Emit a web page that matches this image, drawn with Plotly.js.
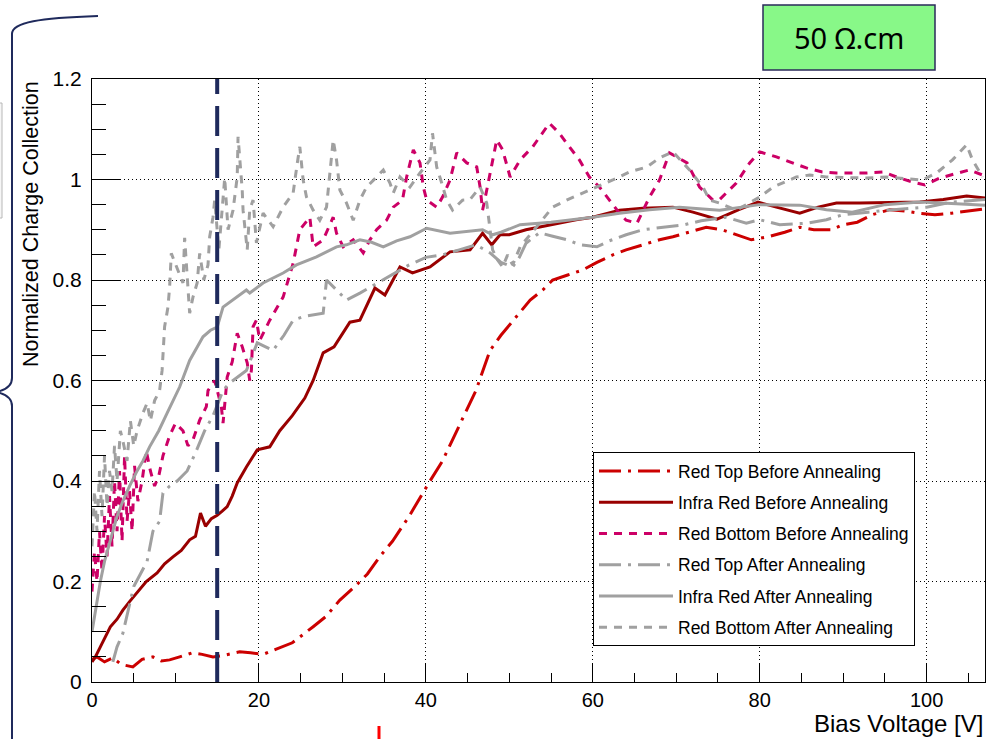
<!DOCTYPE html>
<html>
<head>
<meta charset="utf-8">
<script src="https://cdn.plot.ly/plotly-3.0.1.min.js"></script>
<style>html,body{margin:0;padding:0;background:#fff;}#chart{width:990px;height:739px;}</style>
</head>
<body>
<div id="chart"></div>
<script>
// ---- Data ----
const seriesNames = [
  "Red Top Before Annealing",
  "Infra Red Before Annealing",
  "Red Bottom Before Annealing",
  "Red Top After Annealing",
  "Infra Red After Annealing",
  "Red Bottom After Annealing"
];

const xRedTopBefore = [0,0.6,1.5,2.5,3.5,4.9,6,7.3,8.3,9.3,10.5,12,13.2,14.5,15.5,16.5,17.7,19,20.5,22,24,26.5,28,29.7,31.5,33,34.5,36,38,40.5,42,44,46,47.7,49,50.5,52.5,54,55.2,57,58.8,60.5,62.4,64,66,68,69.6,71.5,73.6,75.5,77.2,79,81,83,84.8,86.5,88.6,90,91.7,93.5,95.6,97.5,99,101,103,105,106.7];
const yRedTopBefore = [0.045,0.05,0.04,0.048,0.035,0.03,0.045,0.05,0.042,0.044,0.05,0.058,0.055,0.05,0.052,0.055,0.06,0.058,0.055,0.065,0.078,0.11,0.13,0.163,0.19,0.215,0.25,0.28,0.33,0.40,0.44,0.51,0.58,0.66,0.69,0.72,0.76,0.78,0.80,0.81,0.82,0.835,0.85,0.86,0.87,0.88,0.886,0.895,0.905,0.90,0.89,0.88,0.886,0.895,0.905,0.90,0.90,0.91,0.915,0.93,0.94,0.937,0.933,0.93,0.933,0.937,0.941];

const xInfraRedBefore = [0,0.4,1,1.6,2.2,3,3.7,4.5,5.7,6.5,7.8,8.7,9.7,10.7,11.7,12.4,13,13.6,14.3,15,15.6,16.2,16.8,17.4,18.5,19.8,21.3,22.5,24,25.5,26.5,27.7,29,30.9,32.1,33.9,35.1,36.9,38.4,40.5,42.9,45.3,46.8,47.9,48.9,50,52,55,58,60,63.2,66,69.6,72,74.9,77.5,79.8,82,84.8,87,89.2,92,95,99.2,102,104.8,107];
const yInfraRedBefore = [0.04,0.05,0.07,0.09,0.11,0.125,0.143,0.16,0.183,0.2,0.217,0.235,0.249,0.262,0.283,0.29,0.336,0.31,0.325,0.332,0.34,0.349,0.37,0.396,0.428,0.462,0.468,0.5,0.53,0.565,0.6,0.655,0.667,0.716,0.72,0.784,0.77,0.826,0.814,0.826,0.856,0.86,0.893,0.87,0.89,0.89,0.90,0.91,0.92,0.925,0.939,0.943,0.945,0.935,0.921,0.94,0.955,0.945,0.933,0.945,0.953,0.953,0.954,0.955,0.96,0.967,0.963];

const xRedBottomBefore = [0,0.3,0.6,0.9,1.2,1.5,1.8,2.1,2.4,2.7,3,3.3,3.6,3.9,4.2,4.5,4.8,5.1,5.5,6,6.5,7,7.5,8,8.5,9.3,10,10.9,11.5,12.1,12.9,13.7,13.9,14.7,15.5,15.7,16.2,16.8,17.4,18,18.6,18.9,19.1,19.3,19.7,20.1,21.3,22.9,24.1,24.6,24.9,26.1,26.5,27.7,28.9,29.3,30.1,31.3,32.5,33.3,34.1,35.3,36.1,37.2,37.7,38.5,39.3,39.7,40.1,41.3,42,42.9,43.7,44.9,46.1,46.5,46.8,47.3,47.7,48.5,49.2,50.1,51.3,52.8,54.8,56,57.2,58.4,59.6,60.8,62,63.2,64,65.3,66.8,68,69.2,71.3,72.8,74.4,75.2,77.2,78.8,80,82,84,85.6,87.5,89.2,91.1,92.8,94.8,96.4,98.3,99.8,101.6,103.6,105.1,106.7];
const yRedBottomBefore = [0.18,0.26,0.2,0.3,0.22,0.33,0.25,0.37,0.27,0.4,0.3,0.42,0.28,0.45,0.32,0.38,0.3,0.43,0.36,0.4,0.46,0.42,0.39,0.41,0.45,0.49,0.515,0.5,0.47,0.482,0.521,0.548,0.58,0.60,0.548,0.515,0.607,0.637,0.694,0.667,0.635,0.60,0.62,0.707,0.72,0.68,0.72,0.766,0.833,0.873,0.90,0.925,0.866,0.88,0.925,0.893,0.866,0.88,0.854,0.88,0.90,0.919,0.945,0.959,1.005,1.059,1.033,0.985,0.959,0.945,0.965,0.999,1.053,1.033,1.025,0.985,0.939,0.979,1.013,1.079,1.059,1.005,1.039,1.065,1.112,1.092,1.065,1.039,1.005,0.985,0.959,0.933,0.919,0.913,0.965,0.999,1.053,1.033,0.985,0.959,0.96,0.993,1.033,1.055,1.045,1.033,1.023,1.015,1.013,1.013,1.013,1.015,1.005,0.995,0.989,1.003,1.013,1.019,1.009];

const xRedTopAfter = [2.5,3,3.7,4.3,5,5.8,6.6,7.3,8.1,8.5,9.3,10.2,11.4,12.5,13.5,14.5,15.7,16.5,17.5,18.5,19.8,21,21.7,23,24.1,25.5,27.7,28.1,29.3,30.5,32.1,33.5,34.9,36.5,38,40,42,44,46,47.7,49,50.4,51.2,52,53.6,55.2,56.9,58.5,60.5,62,64,66,67.8,69.5,71,73,76,78.4,80,82.4,84,85.6,88,90,93,96,100,103,107];
const yRedTopAfter = [0.04,0.07,0.097,0.14,0.19,0.215,0.24,0.30,0.32,0.376,0.39,0.40,0.42,0.46,0.5,0.53,0.58,0.595,0.607,0.62,0.675,0.665,0.66,0.69,0.72,0.728,0.734,0.80,0.78,0.76,0.774,0.787,0.80,0.815,0.83,0.845,0.85,0.86,0.87,0.854,0.835,0.826,0.845,0.873,0.894,0.887,0.88,0.87,0.866,0.878,0.89,0.90,0.904,0.908,0.91,0.918,0.925,0.913,0.92,0.91,0.912,0.913,0.92,0.93,0.935,0.94,0.945,0.955,0.96];

const xInfraRedAfter = [0,0.5,1,1.5,2,2.5,3,3.7,4.5,5.4,6.1,6.9,8,9,10.5,11.7,13.3,14.2,15,15.7,16.9,18.5,18.9,20.5,22.9,24.5,26.9,29.3,30.5,32.1,33.5,34.9,36.5,38.1,40.1,42.9,46.8,48,49,51.3,55,60,63.2,66.8,70.4,75.2,80,84.8,88,91.1,95,99.2,103,107];
const yInfraRedAfter = [0.1,0.15,0.2,0.24,0.27,0.3,0.33,0.36,0.39,0.42,0.44,0.468,0.5,0.535,0.587,0.64,0.687,0.70,0.706,0.746,0.76,0.78,0.774,0.794,0.814,0.83,0.846,0.866,0.87,0.88,0.875,0.866,0.878,0.886,0.903,0.893,0.90,0.89,0.895,0.91,0.915,0.925,0.933,0.94,0.945,0.939,0.95,0.949,0.94,0.935,0.95,0.955,0.952,0.949];

const xRedBottomAfter = [0,0.3,0.6,0.9,1.2,1.5,1.8,2.1,2.4,2.7,3,3.4,3.7,4.2,4.6,5,5.4,6.1,6.6,7,7.5,8.1,8.4,8.5,8.7,9.1,9.3,9.5,10.1,10.9,11.1,11.3,11.7,12.1,12.6,12.9,13.4,13.9,14.1,14.5,14.7,15.2,15.7,15.9,16.3,16.9,17.4,17.5,18,18.1,18.6,18.9,19.3,19.7,20.5,21.7,22.9,24.1,24.6,24.9,25.3,25.7,26.5,27.3,28.1,28.5,28.9,29.3,29.7,30.5,31.3,32.1,32.9,34.1,34.9,35.7,36.1,36.9,38.1,39.3,40.5,40.8,41.3,41.9,42.5,43.2,44.4,45.3,46.5,47.3,47.7,48,48.6,49.2,49.8,50.4,51.3,53,55.2,57,58.8,60.5,62.4,64.4,66.5,68,69.6,71.6,73.2,74,75.2,77.2,80,81.6,84.4,86,88,90,92.8,95.2,97.1,99.5,101.2,103.1,104.8,105.5,106.7];
const yRedBottomAfter = [0.27,0.38,0.30,0.42,0.33,0.45,0.35,0.42,0.38,0.47,0.40,0.50,0.48,0.44,0.52,0.47,0.50,0.535,0.555,0.52,0.56,0.58,0.62,0.66,0.707,0.746,0.786,0.853,0.826,0.794,0.884,0.826,0.734,0.766,0.794,0.853,0.80,0.83,0.886,0.925,0.959,0.86,0.973,1.003,0.90,0.939,1.005,1.085,0.979,0.939,0.86,0.94,0.959,0.874,0.933,0.906,0.945,0.973,1.033,1.065,0.999,0.965,0.939,0.919,0.945,1.013,1.079,1.039,0.979,0.953,0.919,0.959,0.985,1.005,1.019,0.993,0.973,1.005,0.985,1.013,1.039,1.092,1.025,0.993,0.959,0.939,0.959,0.96,0.985,0.953,0.906,0.86,0.84,0.826,0.85,0.83,0.866,0.90,0.945,0.96,0.973,0.985,0.999,1.015,1.025,1.043,1.055,1.019,0.985,0.959,0.953,0.939,0.965,0.985,1.005,1.009,1.005,1.004,1.003,1.005,1.003,0.999,1.013,1.039,1.069,1.039,1.005];

const depletionVoltage = [15];           // dashed vertical marker, V
const xTickValues = [0, 20, 40, 60, 80, 100];
const yTickValues = [0, 0.2, 0.4, 0.6, 0.8, 1, 1.2];

// ---- Layout helpers (pixel -> paper) ----
const W = 990, H = 739;
const M = {l: 92, r: 5, t: 79, b: 57};
const PW = W - M.l - M.r, PH = H - M.t - M.b;
const px = v => (v - M.l) / PW;
const py = v => (H - M.b - v) / PH;
const P = (x, y) => px(x).toFixed(5) + "," + py(y).toFixed(5);

const RED = "#cc0000", DARKRED = "#990000", MAGENTA = "#cc0066", GRAY = "#a0a0a0", NAVY = "#1f2a5c";
const DASHDOT = "22px,7px,3px,7px", DASH = "8px,7px";

function tr(name, x, y, color, dash, i) {
  return {type: "scatter", mode: "lines", name: name, x: x, y: y,
    legendgroup: "g" + i,
    line: {color: color, width: 3, dash: dash}, hoverinfo: "skip"};
}

const data = [
  tr(seriesNames[0], xRedTopBefore, yRedTopBefore, RED, DASHDOT, 0),
  tr(seriesNames[1], xInfraRedBefore, yInfraRedBefore, DARKRED, "solid", 1),
  tr(seriesNames[2], xRedBottomBefore, yRedBottomBefore, MAGENTA, DASH, 2),
  tr(seriesNames[3], xRedTopAfter, yRedTopAfter, GRAY, DASHDOT, 3),
  tr(seriesNames[4], xInfraRedAfter, yInfraRedAfter, GRAY, "solid", 4),
  tr(seriesNames[5], xRedBottomAfter, yRedBottomAfter, GRAY, DASH, 5)
];

const bracePath = "M" + P(98,16) + " C" + P(40,18) + " " + P(12,22) + " " + P(12,34) +
  " L" + P(12,378) + " C" + P(12,386) + " " + P(6,390) + " " + P(-4,392) +
  " C" + P(6,394) + " " + P(12,398) + " " + P(12,406) + " L" + P(12,745);

const layout = {
  width: W, height: H,
  margin: M,
  paper_bgcolor: "#ffffff", plot_bgcolor: "#ffffff",
  font: {family: "Liberation Sans, Arial, sans-serif", color: "#000"},
  showlegend: true,
  legend: {
    x: px(593), y: py(452), xanchor: "left", yanchor: "top",
    bgcolor: "#ffffff", bordercolor: "#000000", borderwidth: 1,
    font: {family: "Liberation Sans, Arial, sans-serif", size: 17.5, color: "#000"},
    tracegroupgap: 5.5, itemwidth: 74, traceorder: "grouped",
    entrywidth: 326, entrywidthmode: "pixels"
  },
  xaxis: {
    range: [0, 107], tickvals: xTickValues, ticktext: xTickValues.map(String),
    showline: true, linecolor: "#000", linewidth: 1, mirror: true,
    ticks: "inside", ticklen: 18, tickcolor: "#000", tickwidth: 1,
    minor: {ticks: "inside", ticklen: 9, dtick: 5, tick0: 0, tickcolor: "#000", showgrid: false},
    showgrid: true, gridcolor: "#000", griddash: "1px,3px", gridwidth: 1,
    zeroline: false, ticklabelstandoff: 0,
    tickfont: {family: "Liberation Sans, Arial, sans-serif", size: 20, color: "#000"}
  },
  yaxis: {
    range: [0, 1.2], tickvals: yTickValues, ticktext: yTickValues.map(String),
    showline: true, linecolor: "#000", linewidth: 1, mirror: true,
    ticks: "inside", ticklen: 28, tickcolor: "#000", tickwidth: 1,
    minor: {ticks: "inside", ticklen: 14, dtick: 0.05, tick0: 0, tickcolor: "#000", showgrid: false},
    showgrid: true, gridcolor: "#000", griddash: "1px,3px", gridwidth: 1,
    zeroline: false, ticklabelstandoff: 5,
    tickfont: {family: "Liberation Sans, Arial, sans-serif", size: 21, color: "#000"}
  },
  shapes: [
    {type: "line", xref: "x", yref: "y", x0: depletionVoltage[0], x1: depletionVoltage[0], y0: 0, y1: 1.2,
     line: {color: NAVY, width: 4, dash: "30px,12px"}},
    {type: "rect", xref: "paper", yref: "paper", x0: px(763), x1: px(935), y0: py(70), y1: py(5),
     fillcolor: "#88f888", line: {color: "#2a2a5a", width: 1.5}},
    {type: "path", xref: "paper", yref: "paper", path: bracePath,
     line: {color: NAVY, width: 2}},
    {type: "rect", xref: "paper", yref: "paper", x0: px(-10), x1: px(2), y0: py(218), y1: py(103),
     fillcolor: "#f6f6f6", line: {color: "#b8b8b8", width: 1}},
    {type: "line", xref: "paper", yref: "paper", x0: px(379), x1: px(379), y0: py(726), y1: py(745),
     line: {color: "#ff0000", width: 3}}
  ],
  annotations: [
    {xref: "paper", yref: "paper", x: 1, y: py(724), xanchor: "right", yanchor: "middle",
     text: "Bias Voltage [V]", showarrow: false,
     font: {family: "Liberation Sans, Arial, sans-serif", size: 24, color: "#000"}},
    {xref: "paper", yref: "paper", x: px(31), y: py(79), xanchor: "center", yanchor: "top",
     text: "Normalized Charge Collection", textangle: -90, showarrow: false,
     font: {family: "Liberation Sans, Arial, sans-serif", size: 21.5, color: "#000"}},
    {xref: "paper", yref: "paper", x: px(849), y: py(38), xanchor: "center", yanchor: "middle",
     text: "50 Ω.cm", showarrow: false,
     font: {family: "Noto Sans, Liberation Sans, sans-serif", size: 29, color: "#000"}}
  ]
};

Plotly.newPlot("chart", data, layout, {displayModeBar: false, staticPlot: true});
</script>
</body>
</html>
